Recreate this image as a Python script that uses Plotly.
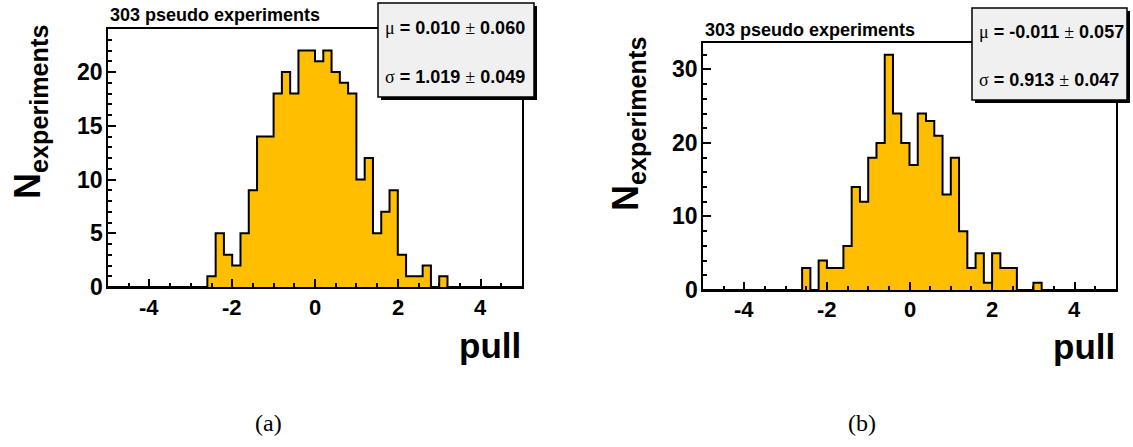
import plotly.graph_objects as go

# Histogram binning shared by both pull distributions
X_MIN, X_MAX, N_BINS = -5.0, 5.0, 50
BIN_W = (X_MAX - X_MIN) / N_BINS

# Entries per bin (bins of width 0.2 from -5 to 5)
counts_a = [0] * 12 + [1, 5, 3, 2, 5, 9, 14, 14, 18, 20, 18, 22, 22, 21, 22, 20,
                       19, 18, 10, 12, 5, 7, 9, 3, 1, 1, 2, 0, 1] + [0] * 9
counts_b = [0] * 12 + [3, 0, 4, 3, 3, 6, 14, 12, 18, 20, 32, 24, 20, 17, 24, 23,
                       21, 13, 18, 8, 3, 5, 1, 5, 3, 3, 0, 0, 1] + [0] * 9

title_text = "303 pseudo experiments"
fit_a = {"mu": "0.010", "mu_err": "0.060", "sigma": "1.019", "sigma_err": "0.049"}
fit_b = {"mu": "-0.011", "mu_err": "0.057", "sigma": "0.913", "sigma_err": "0.047"}

x_ticks = [-4, -2, 0, 2, 4]
x_tick_text = ["-4", "-2", "0", "2", "4"]
y_ticks_a = [0, 5, 10, 15, 20]
y_ticks_b = [0, 10, 20, 30]
captions = ["(a)", "(b)"]

W, H = 1133, 447
FILL = "#FFBE00"
SANS = "Liberation Sans"
SERIF = "Liberation Serif"


def px(x):
    return x / W


def py(y):
    return 1 - y / H


edges = [X_MIN + i * BIN_W for i in range(N_BINS + 1)]

fig = go.Figure()
for counts, xa, ya in [(counts_a, "x", "y"), (counts_b, "x2", "y2")]:
    fig.add_trace(go.Scatter(
        x=edges, y=counts + [counts[-1]], mode="lines",
        line=dict(shape="hv", color="black", width=2),
        fill="tozeroy", fillcolor=FILL, xaxis=xa, yaxis=ya,
        showlegend=False, hoverinfo="skip",
    ))

# Panel frames in pixels: (left, top, right, bottom)
frames = [(108, 29, 522, 287), (703, 43, 1116, 290)]


def x_axis(frame):
    l, t, r, b = frame
    return dict(
        domain=[px(l), px(r)], range=[X_MIN, X_MAX],
        showline=True, linecolor="black", linewidth=2, mirror=True,
        showgrid=False, zeroline=False, showticklabels=False,
        tickmode="array", tickvals=x_ticks,
        ticks="inside", ticklen=8, tickwidth=2, tickcolor="black",
        minor=dict(tickmode="linear", tick0=-4.5, dtick=0.5, ticks="inside",
                   ticklen=4, tickwidth=2, tickcolor="black", showgrid=False),
    )


def y_axis(frame, ymax, ticks, minor_step):
    l, t, r, b = frame
    return dict(
        domain=[py(b), py(t)], range=[0, ymax],
        showline=True, linecolor="black", linewidth=2, mirror=True,
        showgrid=False, zeroline=False, showticklabels=False,
        tickmode="array", tickvals=ticks,
        ticks="inside", ticklen=8, tickwidth=2, tickcolor="black",
        minor=dict(tickmode="linear", tick0=0, dtick=minor_step, ticks="inside",
                   ticklen=4, tickwidth=2, tickcolor="black", showgrid=False),
    )


fig.update_layout(
    width=W, height=H, margin=dict(l=0, r=0, t=0, b=0),
    paper_bgcolor="white", plot_bgcolor="white",
    font=dict(family=SANS, size=20, color="black"),
    xaxis=x_axis(frames[0]), yaxis=y_axis(frames[0], 24, y_ticks_a, 1),
    xaxis2=dict(x_axis(frames[1]), anchor="y2"),
    yaxis2=dict(y_axis(frames[1], 33.6, y_ticks_b, 2), anchor="x2"),
)

annotations = []
shapes = []
XLAB_FONT = dict(family=SANS, size=22, color="black")
YLAB_FONT = dict(family=SANS, size=23, color="black")

# Tick labels, placed through each panel's own axis scale
panels = [("x", "y", y_ticks_a, frames[0], 307), ("x2", "y2", y_ticks_b, frames[1], 309)]
for xr, yr, yticks, (l, t, r, b), xlab_y in panels:
    for v, s in zip(x_ticks, x_tick_text):
        annotations.append(dict(text="<b>%s</b>" % s, xref=xr, yref="paper", x=v,
                                y=py(xlab_y), xanchor="center", yanchor="middle",
                                showarrow=False, font=XLAB_FONT))
    for v in yticks:
        annotations.append(dict(text="<b>%d</b>" % v, xref="paper", yref=yr, x=px(l - 3),
                                y=v, xanchor="right", yanchor="middle",
                                showarrow=False, font=YLAB_FONT))

# Stats boxes: (left, top, right, bottom, text x, mu y, sigma y)
boxes = [(378, 3, 534, 97, 383, 28, 77, fit_a), (972, 8, 1127, 100, 977, 32, 80, fit_b)]
for l, t, r, b, tx, muy, sgy, fit in boxes:
    shapes.append(dict(type="rect", xref="paper", yref="paper", layer="above",
                       x0=px(l + 3), x1=px(r + 3), y0=py(b + 3), y1=py(t + 3),
                       fillcolor="black", line=dict(width=0)))
    shapes.append(dict(type="rect", xref="paper", yref="paper", layer="above",
                       x0=px(l), x1=px(r), y0=py(b), y1=py(t),
                       fillcolor="#F0F0F0", line=dict(color="black", width=1.5)))
    sym = '<span style="font-family:%s;font-weight:normal">%s</span>'
    mu_txt = sym % (SERIF, "μ") + "<b> = %s </b>" % fit["mu"] + sym % (SERIF, "±") + "<b> %s</b>" % fit["mu_err"]
    sg_txt = sym % (SERIF, "σ") + "<b> = %s </b>" % fit["sigma"] + sym % (SERIF, "±") + "<b> %s</b>" % fit["sigma_err"]
    for txt, yy in [(mu_txt, muy), (sg_txt, sgy)]:
        annotations.append(dict(text=txt, xref="paper", yref="paper", x=px(tx), y=py(yy),
                                xanchor="left", yanchor="middle", showarrow=False,
                                font=dict(family=SANS, size=18, color="black")))

# Titles, axis labels and captions
for (l, t, r, b), ytitle_xy, title_gap, pull_y in [(frames[0], (30, 112), 2, 345),
                                                   (frames[1], (628, 124), 1, 346)]:
    annotations.append(dict(text="<b>%s</b>" % title_text, xref="paper", yref="paper",
                            x=px(l), y=py(t - title_gap), xanchor="left", yanchor="bottom",
                            showarrow=False, font=dict(family=SANS, size=18, color="black")))
    annotations.append(dict(text="<b>pull</b>", xref="paper", yref="paper",
                            x=px(r + 1), y=py(pull_y), xanchor="right", yanchor="middle",
                            showarrow=False, font=dict(family=SANS, size=35, color="black")))
    annotations.append(dict(text="<b>N<sub>experiments</sub></b>", xref="paper", yref="paper",
                            x=px(ytitle_xy[0]), y=py(ytitle_xy[1]), xanchor="center",
                            yanchor="middle", textangle=-90, showarrow=False,
                            font=dict(family=SANS, size=36, color="black")))
for cap, cx in zip(captions, [268, 862]):
    annotations.append(dict(text=cap, xref="paper", yref="paper", x=px(cx), y=py(423),
                            xanchor="center", yanchor="middle", showarrow=False,
                            font=dict(family=SERIF, size=24, color="black")))

fig.update_layout(annotations=annotations, shapes=shapes)
fig.write_html("out.html")
